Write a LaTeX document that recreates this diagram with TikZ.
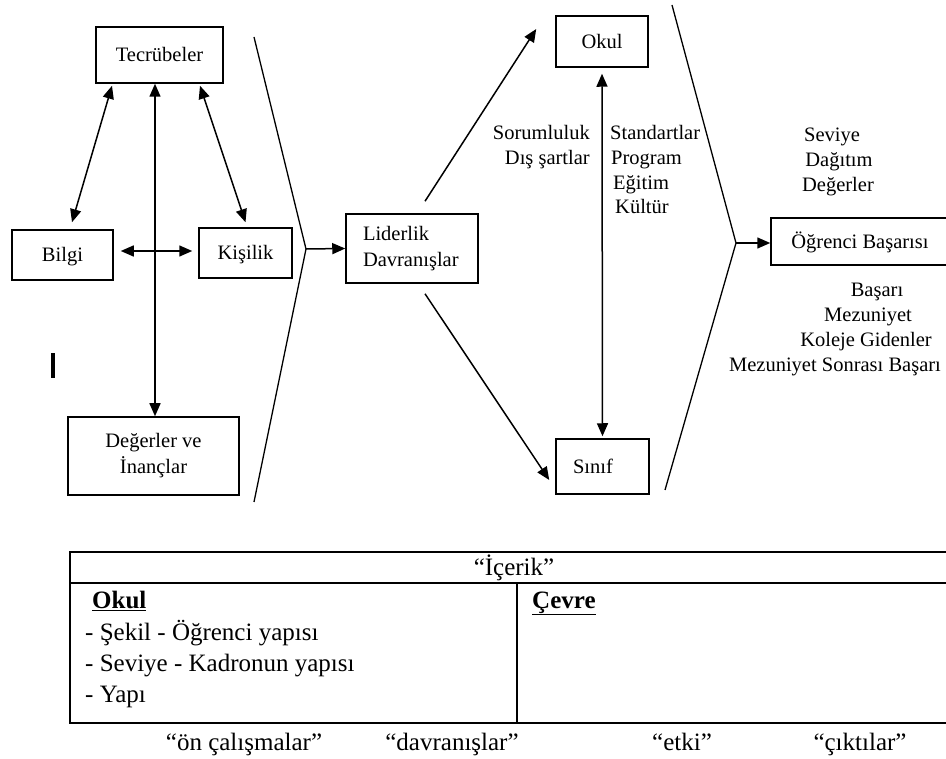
\documentclass[tikz,border=0pt]{standalone}
\usepackage{fontspec}
\setmainfont{Liberation Serif}
\usetikzlibrary{arrows.meta}
\newcommand\dgmfont{\fontsize{20.5}{26}\selectfont}
\newcommand\tblfont{\fontsize{25}{31}\selectfont}
\begin{document}
\begin{tikzpicture}[x=1pt,y=-1pt,
  box/.style={draw,line width=1.5pt,inner sep=0pt,font=\dgmfont},
  sbox/.style={box,text height=14pt,text depth=0pt},
  lbl/.style={inner sep=0pt,font=\dgmfont},
  tlbl/.style={inner sep=0pt,font=\tblfont},
  arr/.style={-{Triangle[length=13pt,width=11pt]},line width=1.5pt},
  dbl/.style={{Triangle[length=13pt,width=11pt]}-{Triangle[length=13pt,width=11pt]},line width=1.5pt},
  chev/.style={line width=1.3pt},
  tline/.style={line width=1.6pt}]
\useasboundingbox (0,0) rectangle (946,759);
\clip (0,0) rectangle (946,759);
\fill[white] (0,0) rectangle (946,759);

% left cluster
\node[sbox,minimum width=127pt,minimum height=56pt] (tec) at (159.5,55) {Tecrübeler};
\node[sbox,minimum width=101pt,minimum height=50pt] (bilgi) at (62.5,255) {Bilgi};
\node[sbox,minimum width=93pt,minimum height=50pt] (kisi) at (245.5,253) {Kişilik};
\node[box,minimum width=171pt,minimum height=78pt,align=center] (deg) at (153.5,456) {Değerler ve\\İnançlar};

\draw[dbl] ([xshift=-47.5pt,yshift=-2pt]tec.south) -- ([xshift=9.5pt,yshift=7pt]bilgi.north);
\draw[dbl] ([xshift=40.5pt,yshift=-2pt]tec.south) -- ([yshift=5pt]kisi.north);
\draw[dbl] ([xshift=-4.5pt]tec.south) -- ([xshift=1.5pt]deg.north);
\draw[dbl] ([xshift=7pt,yshift=4pt]bilgi.east) -- ([xshift=-6pt,yshift=2pt]kisi.west);

\fill (51,353) rectangle (55,378);

% chevron 1
\coordinate (c1top) at (254,37);
\coordinate (c1) at (306,249);
\coordinate (c1bot) at (254,502);
\draw[chev] (c1top) -- (c1) -- (c1bot);

% leadership
\node[box,minimum width=132pt,minimum height=69pt,text width=98pt,inner xsep=17pt,align=left] (lider) at (412,248.5) {Liderlik\\Davranışlar};
\draw[arr] (c1) -- (lider.west);

\node[sbox,minimum width=92pt,minimum height=51pt] (okul) at (602,41.5) {Okul};
\node[sbox,minimum width=93pt,minimum height=55pt,text width=59pt,inner xsep=17pt,align=left] (sinif) at (602.5,466.5) {Sınıf};

\draw[arr] ([xshift=13pt,yshift=12pt]lider.north) -- ([xshift=-19pt,yshift=12.5pt]okul.west);
\draw[arr] ([xshift=13pt,yshift=-10pt]lider.south) -- ([xshift=-6pt,yshift=-13.5pt]sinif.west);
\draw[dbl] ([yshift=-6pt]okul.south) -- ([yshift=2pt]sinif.north);

\node[lbl,anchor=base east] (sor) at (590,140) {Sorumluluk};
\node[lbl,anchor=base east] (dis) at (590,165) {Dış şartlar};
\node[lbl,anchor=base west] (std) at (610,140) {Standartlar};
\node[lbl,anchor=base west] (prg) at (611,165) {Program};
\node[lbl,anchor=base west] (egt) at (613,190) {Eğitim};
\node[lbl,anchor=base west] (klt) at (615,214) {Kültür};

% chevron 2
\coordinate (c2top) at (672,5);
\coordinate (c2) at (736,243);
\coordinate (c2bot) at (665,490);
\draw[chev] (c2top) -- (c2) -- (c2bot);

\node[sbox,minimum width=178pt,minimum height=47pt] (ogr) at (860,241.5) {Öğrenci Başarısı};
\draw[arr] (c2) -- (ogr.west |- c2);

\node[lbl,anchor=base] (sev) at (832,142) {Seviye};
\node[lbl,anchor=base] (dag) at (839,167) {Dağıtım};
\node[lbl,anchor=base] (dgr) at (838,192) {Değerler};

\node[lbl,anchor=base] (bas) at (877,297) {Başarı};
\node[lbl,anchor=base] (mez) at (868,322) {Mezuniyet};
\node[lbl,anchor=base] (kol) at (866,347) {Koleje Gidenler};
\node[lbl,anchor=base] (mzs) at (835,372) {Mezuniyet Sonrası Başarı};

% table
\coordinate (ttl) at (70,552);
\coordinate (ttr) at (952,552);
\coordinate (tml) at (70,583);
\coordinate (tmr) at (952,583);
\coordinate (tbl) at (70,723);
\coordinate (tbr) at (952,723);
\coordinate (tdt) at (517,583);
\coordinate (tdb) at (517,723);
\draw[tline] (ttr) -- (ttl) -- (tbl) -- (tbr);
\draw[tline] (tml) -- (tmr);
\draw[tline] (tdt) -- (tdb);

\node[tlbl,anchor=base] (icerik) at (514,575) {“İçerik”};
\node[tlbl,anchor=base west] (tokul) at (92,608) {\underline{\textbf{Okul}}};
\node[tlbl,anchor=base west] (l1) at (85,640) {- Şekil - Öğrenci yapısı};
\node[tlbl,anchor=base west] (l2) at (85,671) {- Seviye - Kadronun yapısı};
\node[tlbl,anchor=base west] (l3) at (85,702) {- Yapı};
\node[tlbl,anchor=base west] (cevre) at (532,608) {\underline{\textbf{Çevre}}};

\node[tlbl,anchor=base] (on) at (244,750) {“ön çalışmalar”};
\node[tlbl,anchor=base] (dav) at (452,750) {“davranışlar”};
\node[tlbl,anchor=base] (etki) at (682,750) {“etki”};
\node[tlbl,anchor=base] (cik) at (860,750) {“çıktılar”};
\end{tikzpicture}
\end{document}
